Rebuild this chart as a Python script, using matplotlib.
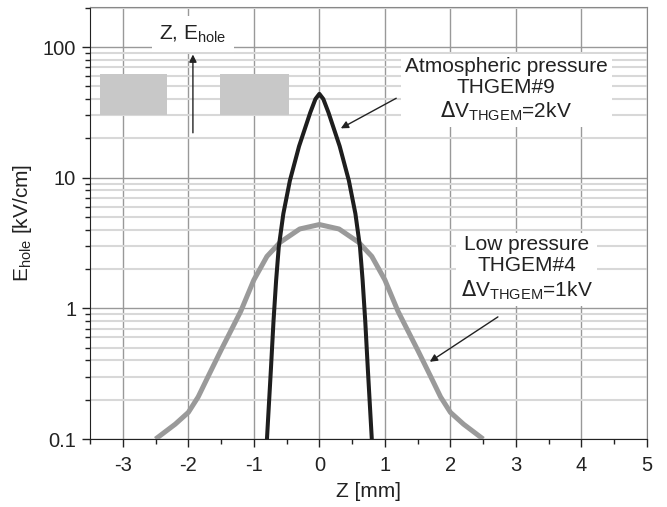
import numpy as np
import matplotlib.pyplot as plt
from matplotlib.patches import Rectangle
from matplotlib.ticker import FixedLocator, NullFormatter

plt.rcParams['font.family'] = ['Liberation Sans', 'DejaVu Sans']

# atmospheric pressure, THGEM#9 (black)
z_atm = [-0.8, -0.74, -0.7, -0.66, -0.62, -0.55, -0.45, -0.31, -0.14, -0.06, 0.0,
         0.06, 0.14, 0.31, 0.45, 0.55, 0.62, 0.66, 0.7, 0.74, 0.8]
e_atm = [0.1, 0.34, 0.8, 1.64, 2.94, 5.3, 9.5, 17.4, 31.4, 40, 43.8,
         40, 31.4, 17.4, 9.5, 5.3, 2.94, 1.64, 0.8, 0.34, 0.1]

# low pressure, THGEM#4 (gray)
z_low = [-2.5, -2.2, -2.0, -1.85, -1.7, -1.5, -1.2, -1.0, -0.8, -0.6, -0.3, 0.0,
         0.3, 0.6, 0.8, 1.0, 1.2, 1.5, 1.7, 1.85, 2.0, 2.2, 2.5]
e_low = [0.1, 0.13, 0.16, 0.21, 0.3, 0.48, 0.95, 1.65, 2.5, 3.2, 4.05, 4.38,
         4.05, 3.2, 2.5, 1.65, 0.95, 0.48, 0.3, 0.21, 0.16, 0.13, 0.1]

# electrode blocks drawn in the inset sketch
blocks_x = [(-3.35, -2.33), (-1.51, -0.47)]
blocks_y = (30, 62)

x_ticks = [-3, -2, -1, 0, 1, 2, 3, 4, 5]
y_ticks = [0.1, 1, 10, 100]
y_labels = ['0.1', '1', '10', '100']

fig = plt.figure(figsize=(6.67, 5.07), dpi=100)
ax = fig.add_axes([0.135, 0.134, 0.835, 0.852])
ax.set_yscale('log')
ax.set_xlim(-3.5, 5)
ax.set_ylim(0.1, 202)

ax.set_xticks(x_ticks)
ax.set_xticklabels([str(v) for v in x_ticks])
ax.xaxis.set_minor_locator(FixedLocator(np.arange(-3.5, 5.01, 0.5)))
ax.set_yticks(y_ticks)
ax.set_yticklabels(y_labels)
ax.yaxis.set_minor_formatter(NullFormatter())
ax.tick_params(which='major', length=6, width=1, labelsize=14.5, colors='#222222')
ax.tick_params(which='minor', length=3.6, width=1, colors='#222222')
ax.tick_params(axis='x', pad=6)
ax.tick_params(axis='y', pad=4)

ax.grid(True, axis='x', which='major', color='#999999', lw=1)
ax.grid(True, axis='y', which='major', color='#999999', lw=1)
ax.grid(True, axis='y', which='minor', color='#d8d8d8', lw=1.5)
ax.set_axisbelow(True)

for s in ['left', 'bottom']:
    ax.spines[s].set_color('#222222')
for s in ['top', 'right']:
    ax.spines[s].set_color('#888888')

for x0, x1 in blocks_x:
    ax.add_patch(Rectangle((x0, blocks_y[0]), x1 - x0, blocks_y[1] - blocks_y[0],
                           facecolor='#c8c8c8', edgecolor='none', zorder=2))

ax.annotate('', xy=(-1.93, 92), xytext=(-1.93, 21),
            arrowprops=dict(arrowstyle='-|>', color='#222222', lw=1,
                            mutation_scale=11), zorder=3)
ax.text(-1.93, 126, r'Z, E$_{\mathregular{hole}}$', ha='center', va='center',
        fontsize=15, color='#222222', zorder=4,
        bbox=dict(facecolor='white', edgecolor='none', pad=5))

ax.plot(z_low, e_low, color='#9a9a9a', lw=3.6, solid_capstyle='butt', zorder=5)
ax.plot(z_atm, e_atm, color='#1e1e1e', lw=2.9, solid_capstyle='butt', zorder=6)

ax.text(2.85, 47, 'Atmospheric pressure\nTHGEM#9\n' + r'$\Delta$V$_{\mathregular{THGEM}}$=2kV',
        ha='center', va='center', fontsize=15, color='#222222', linespacing=1.15,
        zorder=7, bbox=dict(facecolor='white', edgecolor='none', pad=3))
ax.annotate('', xy=(0.29, 23.3), xytext=(1.21, 41.5),
            arrowprops=dict(arrowstyle='-|>', color='#222222', lw=1,
                            mutation_scale=11), zorder=8)

ax.text(3.16, 2.02, 'Low pressure\nTHGEM#4\n' + r'$\Delta$V$_{\mathregular{THGEM}}$=1kV',
        ha='center', va='center', fontsize=15, color='#222222', linespacing=1.15,
        zorder=7, bbox=dict(facecolor='white', edgecolor='none', pad=3))
ax.annotate('', xy=(1.65, 0.38), xytext=(2.76, 0.884),
            arrowprops=dict(arrowstyle='-|>', color='#222222', lw=1,
                            mutation_scale=11), zorder=8)

ax.set_xlabel('Z [mm]', fontsize=15, color='#222222', labelpad=5)
ax.set_ylabel(r'E$_{\mathregular{hole}}$ [kV/cm]', fontsize=15, color='#222222', labelpad=6)

fig.savefig('out.png', dpi=100)
